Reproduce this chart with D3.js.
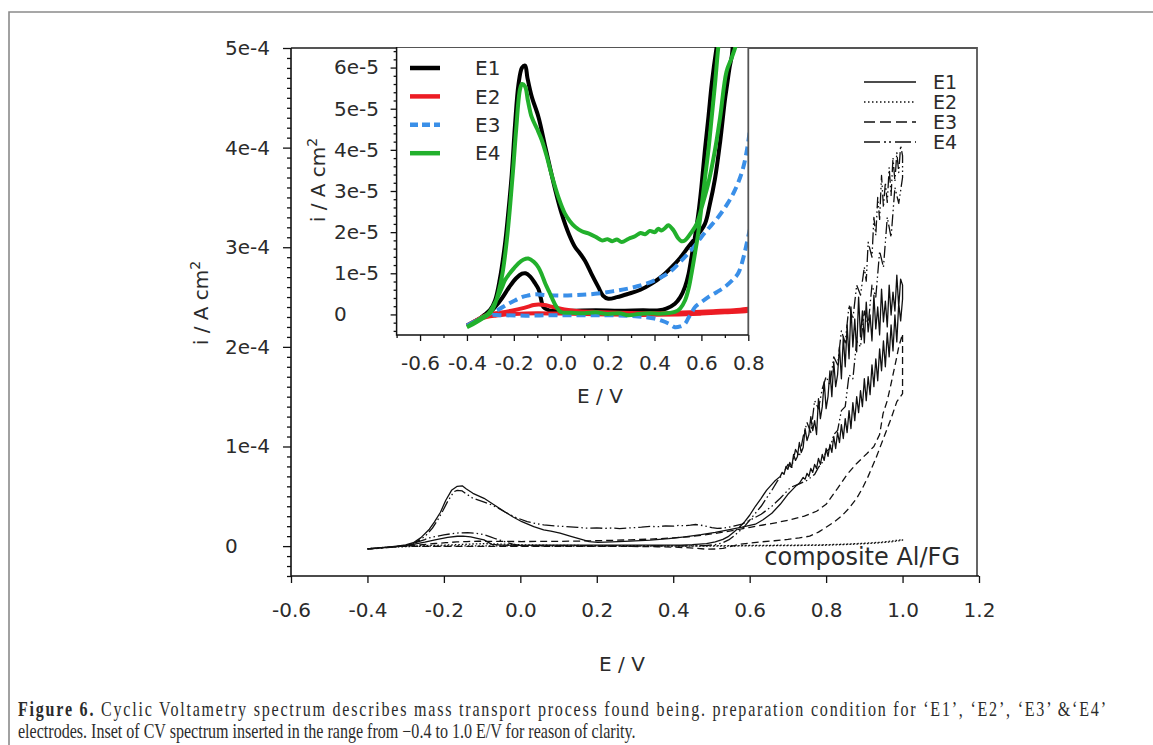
<!DOCTYPE html>
<html>
<head>
<meta charset="utf-8">
<script src="https://cdn.jsdelivr.net/npm/d3@7"></script>
<style>
  html, body { margin: 0; padding: 0; background: #fff; }
  svg { display: block; }
  text { font-family: "DejaVu Sans", sans-serif; fill: #2b2b2b; }
</style>
</head>
<body>
<svg id="fig" width="1153" height="745"></svg>
<script>
// ---- Cyclic scans: [potential E (V), current density i (µA cm^-2)] ----
const e1Scan = [
  [-0.40,-2.7],[-0.37,-1.8],[-0.34,-0.8],[-0.31,0],[-0.28,1.8],[-0.25,4.0],[-0.22,6.6],[-0.19,8.8],
  [-0.165,9.9],[-0.15,10.0],[-0.13,9.2],[-0.11,7.6],[-0.095,6.2],[-0.085,4.0],[-0.074,1.8],[-0.05,1.0],
  [-0.01,0.8],[0.05,0.9],[0.15,1.0],[0.25,0.9],[0.35,1.0],[0.42,1.0],[0.45,1.4],[0.487,2.6],[0.51,4.2],
  [0.53,6.7],[0.545,9.8],[0.558,14],[0.573,19],[0.587,24.5],[0.60,31],[0.615,40],[0.63,48],[0.644,56],
  [0.665,65],
  [0.680,70],[0.685,74],[0.690,72],[0.695,80],[0.700,77],[0.705,84],[0.710,79],[0.715,92],[0.720,86],
  [0.725,90],[0.730,104],[0.735,94],[0.740,99],[0.745,118],[0.750,106],[0.755,112],[0.760,130],[0.765,116],
  [0.770,126],[0.775,112],[0.780,148],[0.785,128],[0.790,140],[0.795,165],[0.800,138],[0.805,150],
  [0.810,176],[0.815,150],[0.820,185],[0.825,160],[0.830,172],[0.835,200],[0.840,168],[0.845,210],
  [0.850,180],[0.855,222],[0.860,188],[0.865,240],[0.870,200],[0.875,228],[0.880,195],[0.885,250],
  [0.890,210],[0.895,236],[0.900,204],[0.905,245],[0.910,215],[0.915,232],[0.920,206],[0.925,252],
  [0.930,218],[0.935,240],[0.940,212],[0.945,258],[0.950,225],[0.955,246],[0.960,220],[0.965,262],
  [0.970,232],[0.975,255],[0.980,236],[0.985,272],[0.990,240],[0.995,268],[1.000,262],
  [1.000,248],[0.995,226],[0.990,244],[0.985,205],[0.980,232],[0.975,196],[0.970,222],[0.965,190],
  [0.960,214],[0.955,180],[0.950,206],[0.945,176],[0.940,198],[0.935,166],[0.930,188],[0.925,160],
  [0.920,182],[0.915,152],[0.910,170],[0.905,146],[0.900,168],[0.895,140],[0.890,156],[0.885,134],
  [0.880,150],[0.875,126],[0.870,144],[0.865,118],[0.860,136],[0.855,114],[0.850,128],[0.845,108],
  [0.840,122],[0.835,104],[0.830,114],[0.825,98],[0.820,110],[0.815,94],[0.810,102],[0.805,90],
  [0.800,98],[0.795,86],[0.790,92],[0.785,82],[0.780,88],[0.775,78],[0.770,82],[0.765,74],[0.760,78],
  [0.755,70],[0.750,73],[0.745,67],[0.740,69],[0.730,63],[0.720,60],[0.710,56],[0.700,52],
  [0.68,42],[0.658,33],[0.635,26.5],[0.615,22],[0.58,19],[0.544,16.4],
  [0.51,13.8],[0.473,11.5],[0.43,9.2],[0.388,7.5],[0.34,6.0],[0.288,5.0],[0.24,4.2],[0.203,3.8],[0.18,4.6],
  [0.16,6.7],[0.13,10],[0.104,13],[0.08,15],[0.061,16.4],[0.035,19.5],[0.004,24.5],[-0.02,29.5],
  [-0.039,34],[-0.065,40.5],[-0.095,48],[-0.124,53],[-0.142,57.5],[-0.152,60.5],[-0.165,60],[-0.18,56],
  [-0.195,46],[-0.209,34],[-0.225,24],[-0.238,17],[-0.26,8.5],[-0.28,3.4],[-0.30,1.2],[-0.323,0],
  [-0.36,-1.6],[-0.40,-2.7]
];

const e2Scan = [
  [-0.40,-2.7],[-0.36,-1.4],[-0.31,0],[-0.26,0.4],[-0.21,0.9],[-0.17,1.4],[-0.138,1.9],[-0.115,2.3],
  [-0.095,2.4],[-0.07,2.3],[-0.04,1.9],[0.0,1.4],[0.032,1.1],[0.08,0.8],[0.15,0.6],[0.25,0.4],[0.35,0.3],
  [0.45,0.3],[0.55,0.5],[0.65,0.8],[0.75,1.1],[0.80,1.4],[0.85,2.0],[0.90,2.9],[0.94,3.9],[0.97,5.0],
  [1.00,6.6],
  [1.00,6.0],[0.97,4.3],[0.93,3.0],[0.88,2.0],[0.80,0.9],[0.70,0.5],[0.60,0.2],[0.50,0.0],[0.40,-0.1],
  [0.30,-0.1],[0.20,0.0],[0.10,0.1],[0.0,0.2],[-0.10,0.3],[-0.20,0.1],[-0.28,-0.3],[-0.34,-1.0],[-0.40,-2.7]
];

const e3Scan = [
  [-0.40,-2.7],[-0.36,-1.5],[-0.31,-0.2],[-0.25,-0.2],[-0.15,-0.3],[-0.05,-0.2],[0.05,-0.2],[0.15,-0.2],
  [0.217,-0.2],[0.28,-0.3],[0.33,-0.5],[0.359,-0.65],[0.40,-1.0],[0.43,-1.5],[0.46,-2.2],[0.487,-3.1],
  [0.51,-2.9],[0.53,-2.3],[0.545,-0.8],[0.56,0.6],[0.573,1.8],[0.60,3.0],[0.629,4.2],[0.665,5.4],[0.70,6.7],
  [0.73,8.2],[0.757,10],[0.78,14],[0.80,19],[0.82,24],[0.84,30],[0.86,38],[0.88,48],[0.895,58],[0.91,70],
  [0.93,88],[0.95,108],[0.97,128],[0.985,145],[1.00,153],
  [1.00,213],[0.99,200],[0.985,190],[0.97,163],[0.96,146],[0.949,133],[0.94,112],[0.925,100],[0.907,93],
  [0.88,83],[0.855,72],[0.83,58],[0.80,42],[0.775,35],[0.743,30.2],[0.71,26.8],[0.672,23.7],[0.635,21.2],
  [0.601,18.9],[0.565,16.2],[0.53,14],[0.50,12.2],[0.473,10.7],[0.44,9.4],[0.402,8.3],[0.35,7.2],[0.288,6.3],
  [0.22,5.6],[0.146,5.0],[0.07,4.7],[0.004,4.6],[-0.06,4.7],[-0.11,4.9],[-0.14,4.6],[-0.166,4.2],
  [-0.195,3.4],[-0.223,2.6],[-0.265,1.2],[-0.309,0],[-0.35,-1.3],[-0.40,-2.7]
];

const e4Scan = [
  [-0.40,-3.1],[-0.37,-2.0],[-0.34,-0.9],[-0.31,0.2],[-0.29,1.8],[-0.27,4.0],[-0.25,6.6],[-0.238,8.3],
  [-0.22,9.8],[-0.20,11.2],[-0.181,12.4],[-0.16,13.3],[-0.138,13.6],[-0.115,12.8],[-0.095,11.4],[-0.08,9.6],
  [-0.065,7.4],[-0.05,5.6],[-0.039,4.2],[-0.02,2.0],[0.0,0.6],[0.05,0.4],[0.10,0.3],[0.15,0.5],[0.20,0.1],
  [0.25,0.3],[0.288,-0.2],[0.33,0.1],[0.38,0.3],[0.43,0.2],[0.487,0.6],[0.51,1.5],[0.53,3.4],[0.545,6.2],
  [0.558,10],[0.573,15],[0.587,20],[0.60,26],[0.615,33],[0.63,40],[0.644,48],[0.658,56],[0.672,65],
  [0.69,74],[0.70,82],[0.71,79],[0.72,97],[0.73,90],[0.74,110],[0.75,124],[0.76,114],[0.77,146],[0.78,138],
  [0.79,158],[0.80,170],[0.81,162],[0.82,190],[0.83,182],[0.84,216],[0.85,204],[0.86,242],[0.87,228],
  [0.88,262],[0.89,252],[0.90,280],[0.905,266],[0.91,305],[0.92,290],[0.925,330],[0.93,312],[0.935,350],
  [0.94,328],[0.945,372],[0.95,340],[0.955,365],[0.96,345],[0.965,380],[0.97,352],[0.975,390],[0.98,366],
  [0.985,395],[0.99,375],[0.995,402],[1.00,392],
  [1.00,370],[0.99,344],[0.98,360],[0.97,310],[0.96,330],[0.95,280],[0.94,296],[0.93,250],[0.92,262],
  [0.91,222],[0.90,236],[0.89,200],[0.88,206],[0.87,168],[0.86,172],[0.85,140],[0.84,136],[0.83,116],
  [0.82,112],[0.81,98],[0.80,95],[0.79,84],[0.78,79],[0.77,72],[0.75,66],[0.73,62.5],[0.707,59],[0.68,48],
  [0.658,40],[0.63,32],[0.601,26],[0.58,22],[0.558,20],[0.53,18],[0.515,17.8],[0.501,18.5],[0.48,20.5],
  [0.459,21.7],[0.445,21],[0.43,20.4],[0.415,20.8],[0.402,20],[0.38,20.3],[0.36,19.5],[0.34,19.8],
  [0.317,19],[0.29,18.4],[0.26,17.6],[0.24,18.2],[0.22,17.8],[0.20,18.3],[0.175,18],[0.15,18.8],
  [0.118,19.7],[0.09,20.2],[0.061,21.3],[0.04,22.6],[0.018,24.5],[-0.01,28.5],[-0.039,34],[-0.06,38.5],
  [-0.081,42.4],[-0.10,45],[-0.124,48],[-0.14,52],[-0.152,55.4],[-0.165,56],[-0.174,54.6],[-0.19,45],
  [-0.202,36],[-0.215,27],[-0.23,18],[-0.25,9.5],[-0.28,2.6],[-0.30,0.4],[-0.323,-0.6],[-0.36,-1.9],
  [-0.40,-3.1]
];

const seriesNames = ["E1", "E2", "E3", "E4"];
const seriesScans = [e1Scan, e2Scan, e3Scan, e4Scan];

// Axis ticks and labels
const mainXTicks = [-0.6, -0.4, -0.2, 0.0, 0.2, 0.4, 0.6, 0.8, 1.0, 1.2];
const mainXTickLabels = ["-0.6", "-0.4", "-0.2", "0.0", "0.2", "0.4", "0.6", "0.8", "1.0", "1.2"];
const mainYTicks = [0, 1e-4, 2e-4, 3e-4, 4e-4, 5e-4];
const mainYTickLabels = ["0", "1e-4", "2e-4", "3e-4", "4e-4", "5e-4"];
const insetXTicks = [-0.6, -0.4, -0.2, 0.0, 0.2, 0.4, 0.6, 0.8];
const insetXTickLabels = ["-0.6", "-0.4", "-0.2", "0.0", "0.2", "0.4", "0.6", "0.8"];
const insetYTicks = [0, 1e-5, 2e-5, 3e-5, 4e-5, 5e-5, 6e-5];
const insetYTickLabels = ["0", "1e-5", "2e-5", "3e-5", "4e-5", "5e-5", "6e-5"];

const captionBold = "Figure 6.";
const captionLine1 = " Cyclic Voltametry spectrum describes mass transport process found being. preparation condition for \u2018E1\u2019, \u2018E2\u2019, \u2018E3\u2019 &\u2018E4\u2019";
const captionLine2 = "electrodes. Inset of CV spectrum inserted in the range from \u22120.4 to 1.0 E/V for reason of clarity.";

// ---- styles ----
const mainStyles = [
  { dash: null },
  { dash: "1.5,2" },
  { dash: "7,4" },
  { dash: "12,3,1.5,3,1.5,3" }
];
const mainLegendDash = [null, "1.5,2.5", "11,5", "16,4,2,3,2,4"];
const insetStyles = [
  { color: "#000000", dash: null },
  { color: "#ec1c24", dash: null },
  { color: "#3a8fe8", dash: "9,5" },
  { color: "#22b02c", dash: null }
];

const svg = d3.select("#fig");

// page frame
svg.append("path")
  .attr("d", "M9,745 V12 H1153")
  .attr("fill", "none").attr("stroke", "#8a8a8a").attr("stroke-width", 1.6);

// ---- main plot ----
const M = { left: 291, right: 977, top: 48, bottom: 576 };
const x = d3.scaleLinear().domain([-0.6, 1.2]).range([291, 979]);
const y = d3.scaleLinear().domain([-3e-5, 5e-4]).range([M.bottom, M.top]);

svg.append("clipPath").attr("id", "mainClip")
  .append("rect").attr("x", M.left).attr("y", M.top)
  .attr("width", M.right - M.left).attr("height", M.bottom - M.top);

const toA = v => v * 1e-6;

const mainLine = d3.line().x(d => x(d[0])).y(d => y(toA(d[1])));
const mainCurves = svg.append("g").attr("clip-path", "url(#mainClip)");
seriesScans.forEach((scan, k) => {
  mainCurves.append("path")
    .datum(scan)
    .attr("d", mainLine)
    .attr("fill", "none")
    .attr("stroke", "#111")
    .attr("stroke-width", 1.3)
    .attr("stroke-linejoin", "round")
    .attr("stroke-dasharray", mainStyles[k].dash);
});

function tidy(g, size) {
  g.select(".domain").remove();
  g.selectAll(".tick line").attr("stroke", "#111").attr("stroke-width", 1.3);
  g.selectAll(".tick text").attr("font-size", size).attr("fill", "#333")
    .attr("font-family", "DejaVu Sans, sans-serif");
}

// y axis: minor ticks every 1e-5, major every 1e-4
const mainMinorY = d3.range(-3, 51).filter(k => k % 10 !== 0).map(k => k * 1e-5);
svg.append("g").attr("transform", `translate(${M.left},0)`)
  .call(d3.axisLeft(y).tickValues(mainMinorY).tickSize(4).tickFormat(""))
  .call(g => tidy(g, 20));
svg.append("g").attr("transform", `translate(${M.left},0)`)
  .call(d3.axisLeft(y).tickValues(mainYTicks).tickSize(8)
    .tickFormat((d, i) => mainYTickLabels[i]))
  .call(g => tidy(g, 20))
  .call(g => g.selectAll(".tick text").attr("text-anchor", "start").attr("x", 225 - M.left));

svg.append("g").attr("transform", `translate(0,${M.bottom})`)
  .call(d3.axisBottom(x).tickValues(mainXTicks).tickSize(7).tickPadding(20)
    .tickFormat((d, i) => mainXTickLabels[i]))
  .call(g => tidy(g, 20));

// frame
svg.append("path")
  .attr("d", `M${M.left},${M.top} H${M.right} V${M.bottom}`)
  .attr("fill", "none").attr("stroke", "#555").attr("stroke-width", 1.8);
svg.append("path")
  .attr("d", `M${M.left},${M.top} V${M.bottom} H979`)
  .attr("fill", "none").attr("stroke", "#111").attr("stroke-width", 1.6);

// axis titles
svg.append("text").attr("x", 622).attr("y", 671).attr("text-anchor", "middle")
  .attr("font-size", 20).text("E / V");
const yTitle = svg.append("text")
  .attr("transform", "translate(208,303) rotate(-90)")
  .attr("text-anchor", "middle").attr("font-size", 20);
yTitle.append("tspan").text("i / A cm");
yTitle.append("tspan").attr("font-size", 14).attr("dy", -8).text("2");

svg.append("text").attr("x", 960).attr("y", 565).attr("text-anchor", "end")
  .attr("font-size", 24).attr("fill", "#333").text("composite Al/FG");

// main legend
const legMain = svg.append("g");
seriesNames.forEach((name, k) => {
  const ly = 82 + k * 20;
  legMain.append("line").attr("x1", 864).attr("x2", 916).attr("y1", ly).attr("y2", ly)
    .attr("stroke", "#111").attr("stroke-width", 1.3)
    .attr("stroke-dasharray", mainLegendDash[k]);
  legMain.append("text").attr("x", 933).attr("y", ly).attr("dy", "0.36em")
    .attr("font-size", 19).text(name);
});

// ---- inset ----
const I = { left: 396.6, right: 748.3, top: 47, bottom: 335 };
const xi = d3.scaleLinear().domain([-0.7, 0.8]).range([I.left, I.right]);
const yi = d3.scaleLinear().domain([-5e-6, 6.5e-5]).range([I.bottom, I.top]);

svg.append("rect").attr("x", I.left).attr("y", I.top + 1)
  .attr("width", I.right - I.left).attr("height", I.bottom - I.top - 1).attr("fill", "#fff");

svg.append("clipPath").attr("id", "insetClip")
  .append("rect").attr("x", I.left).attr("y", I.top)
  .attr("width", I.right - I.left).attr("height", I.bottom - I.top);

const insetLine = d3.line().curve(d3.curveCatmullRom.alpha(0.5))
  .x(d => xi(d[0])).y(d => yi(toA(d[1])));
const insetCurves = svg.append("g").attr("clip-path", "url(#insetClip)");
seriesScans.forEach((scan, k) => {
  insetCurves.append("path")
    .datum(scan)
    .attr("d", insetLine)
    .attr("fill", "none")
    .attr("stroke", insetStyles[k].color)
    .attr("stroke-width", 4)
    .attr("stroke-linejoin", "round")
    .attr("stroke-dasharray", insetStyles[k].dash);
});

const insetMinorY = d3.range(-2, 33).filter(k => k % 5 !== 0).map(k => k * 2e-6);
svg.append("g").attr("transform", `translate(${I.left},0)`)
  .call(d3.axisLeft(yi).tickValues(insetMinorY).tickSize(3).tickFormat(""))
  .call(g => tidy(g, 20));
svg.append("g").attr("transform", `translate(${I.left},0)`)
  .call(d3.axisLeft(yi).tickValues(insetYTicks).tickSize(6)
    .tickFormat((d, i) => insetYTickLabels[i]))
  .call(g => tidy(g, 20))
  .call(g => g.selectAll(".tick text").attr("text-anchor", "start").attr("x", 334 - I.left));

const insetMinorX = d3.range(-7, 9).filter(k => k % 2 !== 0).map(k => k / 10);
svg.append("g").attr("transform", `translate(0,${I.bottom})`)
  .call(d3.axisBottom(xi).tickValues(insetMinorX).tickSize(3).tickFormat(""))
  .call(g => tidy(g, 20));
svg.append("g").attr("transform", `translate(0,${I.bottom})`)
  .call(d3.axisBottom(xi).tickValues(insetXTicks).tickSize(6).tickPadding(15)
    .tickFormat((d, i) => insetXTickLabels[i]))
  .call(g => tidy(g, 20));

svg.append("path")
  .attr("d", `M${I.right},${I.top} V${I.bottom}`)
  .attr("fill", "none").attr("stroke", "#555").attr("stroke-width", 1.8);
svg.append("path")
  .attr("d", `M${I.left},${I.top} V${I.bottom} H${I.right}`)
  .attr("fill", "none").attr("stroke", "#111").attr("stroke-width", 1.5);

svg.append("text").attr("x", 600).attr("y", 403).attr("text-anchor", "middle")
  .attr("font-size", 20).text("E / V");
const yiTitle = svg.append("text")
  .attr("transform", "translate(325,180) rotate(-90)")
  .attr("text-anchor", "middle").attr("font-size", 20);
yiTitle.append("tspan").text("i / A cm");
yiTitle.append("tspan").attr("font-size", 14).attr("dy", -8).text("2");

// inset legend
const legInset = svg.append("g");
seriesNames.forEach((name, k) => {
  const ly = 68 + k * 28.4;
  legInset.append("line").attr("x1", 410).attr("x2", 440).attr("y1", ly).attr("y2", ly)
    .attr("stroke", insetStyles[k].color).attr("stroke-width", 4.5)
    .attr("stroke-dasharray", insetStyles[k].dash ? "8,4" : null);
  legInset.append("text").attr("x", 475).attr("y", ly).attr("dy", "0.36em")
    .attr("font-size", 20).text(name);
});

// ---- caption (condensed serif, first line set to the full column width) ----
const cap = svg.append("g").attr("transform", "translate(18,0)");
const capInner = cap.append("g");
const capStyle = sel => sel.attr("font-size", 20).attr("fill", "#231f20")
  .style("font-family", "'Liberation Serif', serif");
const l1 = capInner.append("text").attr("x", 0).attr("y", 716).call(capStyle);
l1.append("tspan").attr("font-weight", "bold").text(captionBold);
l1.append("tspan").text(captionLine1);
const l2 = capInner.append("text").attr("x", 0).attr("y", 738).call(capStyle).text(captionLine2);

const natural2 = l2.node().getComputedTextLength();
const sx = 618 / natural2;
capInner.attr("transform", `scale(${sx},1)`);
const natural1 = l1.node().getComputedTextLength();
const target1 = 1088 / sx;
l1.attr("textLength", target1)
  .attr("lengthAdjust", target1 >= natural1 ? "spacing" : "spacingAndGlyphs");
</script>
</body>
</html>
